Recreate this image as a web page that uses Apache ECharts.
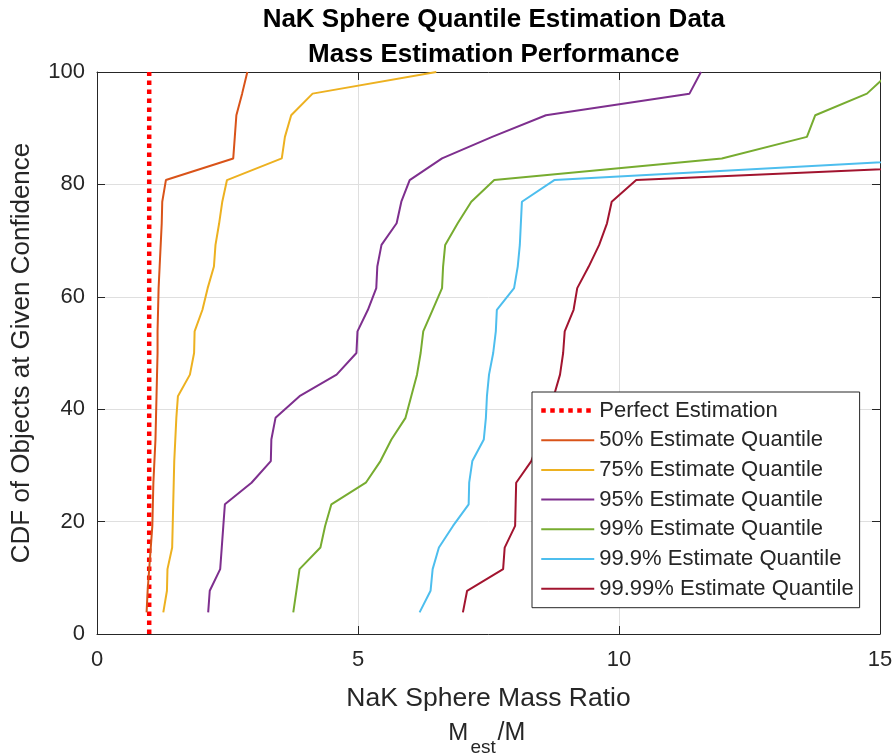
<!DOCTYPE html>
<html>
<head>
<meta charset="utf-8">
<script src="https://cdn.jsdelivr.net/npm/echarts@6/dist/echarts.min.js"></script>
<style>
html,body{margin:0;padding:0;background:#fff;}
#chart{width:896px;height:755px;}
</style>
</head>
<body>
<div id="chart"></div>
<script>
// ---- data ----
const titleLines = ['NaK Sphere Quantile Estimation Data', 'Mass Estimation Performance'];
const xAxisName = 'NaK Sphere Mass Ratio';
const yAxisName = 'CDF of Objects at Given Confidence';
const seriesNames = [
  'Perfect Estimation',
  '50% Estimate Quantile',
  '75% Estimate Quantile',
  '95% Estimate Quantile',
  '99% Estimate Quantile',
  '99.9% Estimate Quantile',
  '99.99% Estimate Quantile'
];
const seriesColors = ['#ff0000', '#d95319', '#edb120', '#7e2f8e', '#77ac30', '#4dbeee', '#a2142f'];

// perfect-estimation reference line
const perfectX = [1, 1];
const perfectY = [0, 100];

// CDF levels (y) shared by all quantile curves
const cdfLevels = [3.85, 7.69, 11.54, 15.38, 19.23, 23.08, 26.92, 30.77, 34.62, 38.46, 42.31, 46.15, 50,
  53.85, 57.69, 61.54, 65.38, 69.23, 73.08, 76.92, 80.77, 84.62, 88.46, 92.31, 96.15, 100];

const q50 = [0.95, 0.97, 1.00, 1.03, 1.06, 1.07, 1.08, 1.10, 1.12, 1.13, 1.14, 1.15, 1.16,
  1.16, 1.17, 1.18, 1.20, 1.22, 1.24, 1.25, 1.32, 2.61, 2.64, 2.67, 2.78, 2.88];
const q75 = [1.27, 1.34, 1.35, 1.44, 1.45, 1.46, 1.47, 1.48, 1.50, 1.52, 1.55, 1.78, 1.86,
  1.87, 2.02, 2.12, 2.24, 2.27, 2.34, 2.40, 2.49, 3.54, 3.60, 3.72, 4.13, 6.50];
const q95 = [2.13, 2.16, 2.36, 2.39, 2.42, 2.45, 2.96, 3.33, 3.34, 3.42, 3.88, 4.59, 4.97,
  4.99, 5.19, 5.35, 5.37, 5.45, 5.74, 5.83, 5.99, 6.61, 7.57, 8.60, 11.35, 11.57];
const q99 = [3.76, 3.82, 3.88, 4.28, 4.37, 4.49, 5.15, 5.43, 5.64, 5.91, 6.02, 6.13, 6.20,
  6.25, 6.43, 6.61, 6.63, 6.67, 6.91, 7.17, 7.61, 11.97, 13.60, 13.76, 14.75, 15.2];
const q999 = [6.18, 6.39, 6.43, 6.55, 6.82, 7.12, 7.13, 7.19, 7.41, 7.45, 7.47, 7.51, 7.59,
  7.64, 7.66, 7.99, 8.06, 8.10, 8.12, 8.14, 8.76, 16.4, 18.0, 20.0, 23.0, 28.0];
const q9999 = [7.01, 7.09, 7.78, 7.81, 8.01, 8.02, 8.03, 8.32, 8.47, 8.62, 8.75, 8.87, 8.93,
  8.96, 9.13, 9.20, 9.42, 9.62, 9.77, 9.86, 10.33, 19.6, 22.0, 25.0, 28.0, 32.0];

const quantileSets = [q50, q75, q95, q99, q999, q9999];

// ---- chart ----
const FONT = '"Liberation Sans", Arial, Helvetica, sans-serif';
const AX = '#262626';
const chart = echarts.init(document.getElementById('chart'), null, {renderer: 'canvas'});

const pairs = (xs, ys) => xs.map((x, i) => [x, ys[i]]);

const series = [{
  name: seriesNames[0],
  type: 'line',
  data: pairs(perfectX, perfectY),
  symbol: 'none',
  showSymbol: false,
  silent: true,
  lineStyle: {color: seriesColors[0], width: 4.5, type: [4.5, 4.5], cap: 'butt'},
  itemStyle: {color: seriesColors[0]},
  emphasis: {disabled: true}
}];
quantileSets.forEach((xs, i) => {
  series.push({
    name: seriesNames[i + 1],
    type: 'line',
    data: pairs(xs, cdfLevels),
    symbol: 'none',
    showSymbol: false,
    silent: true,
    clip: true,
    lineStyle: {color: seriesColors[i + 1], width: 2},
    itemStyle: {color: seriesColors[i + 1]},
    emphasis: {disabled: true}
  });
});

const tickStyle = {show: true, inside: true, length: 8, lineStyle: {color: AX, width: 1}};
const lineStyleAx = {show: true, onZero: false, lineStyle: {color: AX, width: 1}};
const grid = {color: '#dfdfdf', width: 1};

const option = {
  animation: false,
  backgroundColor: '#ffffff',
  title: {
    text: titleLines.join('\n'),
    left: 488.8,
    top: -3,
    textAlign: 'center',
    textStyle: {fontFamily: FONT, fontSize: 26, fontWeight: 'bold', color: '#000', lineHeight: 35.5}
  },
  grid: {left: 97, right: 16, top: 72, bottom: 121, containLabel: false},
  legend: {
    orient: 'vertical',
    left: 532,
    top: 392,
    padding: [7.5, 6, 8, 7],
    itemGap: 7.7,
    itemWidth: 53,
    itemHeight: 14,
    backgroundColor: '#ffffff',
    borderColor: AX,
    borderWidth: 1,
    borderRadius: 0,
    selectedMode: false,
    itemStyle: {opacity: 0, borderWidth: 0},
    lineStyle: {width: 'inherit'},
    textStyle: {fontFamily: FONT, fontSize: 22, color: AX},
    data: seriesNames
  },
  xAxis: [{
    type: 'value', min: 0, max: 15, interval: 5, position: 'bottom',
    axisLine: lineStyleAx, axisTick: tickStyle,
    axisLabel: {margin: 15, fontSize: 22, fontFamily: FONT, color: AX},
    splitLine: {show: true, lineStyle: grid},
    name: xAxisName, nameLocation: 'middle', nameGap: 51,
    nameTextStyle: {fontSize: 26.5, fontFamily: FONT, color: AX}
  }, {
    type: 'value', min: 0, max: 15, interval: 5, position: 'top',
    axisLine: lineStyleAx, axisTick: tickStyle,
    axisLabel: {show: false}, splitLine: {show: false}
  }],
  yAxis: [{
    type: 'value', min: 0, max: 100, interval: 20, position: 'left',
    axisLine: lineStyleAx, axisTick: tickStyle,
    axisLabel: {margin: 12, fontSize: 22, fontFamily: FONT, color: AX},
    splitLine: {show: true, lineStyle: grid},
    name: yAxisName, nameLocation: 'middle', nameGap: 62,
    nameTextStyle: {fontSize: 26, fontFamily: FONT, color: AX}
  }, {
    type: 'value', min: 0, max: 100, interval: 20, position: 'right',
    axisLine: lineStyleAx, axisTick: tickStyle,
    axisLabel: {show: false}, splitLine: {show: false}
  }],
  graphic: [
    {type: 'text', x: 448.3, y: 733, silent: true,
     style: {text: 'M', fontSize: 24, fontFamily: FONT, fill: AX, align: 'left', verticalAlign: 'middle'}},
    {type: 'text', x: 470.5, y: 747.5, silent: true,
     style: {text: 'est', fontSize: 19, fontFamily: FONT, fill: AX, align: 'left', verticalAlign: 'middle'}},
    {type: 'text', x: 497.5, y: 733, silent: true,
     style: {text: '/M', fontSize: 25, fontFamily: FONT, fill: AX, align: 'left', verticalAlign: 'middle'}}
  ],
  series: series
};
chart.setOption(option);
</script>
</body>
</html>
